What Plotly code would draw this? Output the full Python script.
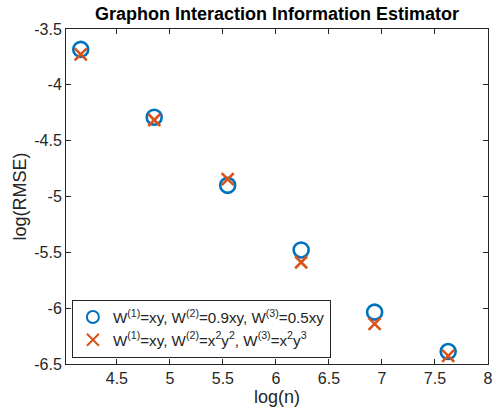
import plotly.graph_objects as go

log_n = [4.159, 4.852, 5.545, 6.238, 6.931, 7.625]
rmse_linear = [-3.682, -4.29, -4.90, -5.479, -6.036, -6.389]
rmse_poly = [-3.727, -4.315, -4.845, -5.589, -6.141, -6.428]
x_ticks = [4.5, 5, 5.5, 6, 6.5, 7, 7.5, 8]
y_ticks = [-6.5, -6, -5.5, -5, -4.5, -4, -3.5]

FONT = "Liberation Sans, Arial, Helvetica, sans-serif"
INK = "#262626"

fig = go.Figure()
fig.add_trace(go.Scatter(
    x=log_n, y=rmse_linear, mode="markers",
    name="W<sup>(1)</sup>=xy, W<sup>(2)</sup>=0.9xy, W<sup>(3)</sup>=0.5xy",
    marker=dict(symbol="circle-open", size=15, color="#0072BD",
                line=dict(width=2.6, color="#0072BD")),
))
fig.add_trace(go.Scatter(
    x=log_n, y=rmse_poly, mode="markers",
    name="W<sup>(1)</sup>=xy, W<sup>(2)</sup>=x<sup>2</sup>y<sup>2</sup>, W<sup>(3)</sup>=x<sup>2</sup>y<sup>3</sup>",
    marker=dict(symbol="x-thin", size=12, color="#D95319",
                line=dict(width=2.6, color="#D95319")),
))

axis_common = dict(
    showgrid=False, zeroline=False, showline=True, linecolor=INK,
    linewidth=1, mirror="ticks", ticks="inside", ticklen=5,
    tickcolor=INK, tickfont=dict(size=16, color=INK, family=FONT),
    ticklabeloverflow="allow",
)
fig.update_xaxes(range=[4.02, 8.0005], tickvals=x_ticks,
                 ticktext=[f"{v:g}" for v in x_ticks],
                 title=dict(text="log(n)", font=dict(size=18, color=INK, family=FONT), standoff=2),
                 **axis_common)
fig.update_yaxes(range=[-6.5005, -3.4995], tickvals=y_ticks,
                 ticktext=[f"{v:g}" for v in y_ticks],
                 title=dict(text="log(RMSE)", font=dict(size=18, color=INK, family=FONT), standoff=2),
                 **axis_common)

fig.update_layout(
    width=496, height=414,
    margin=dict(l=66, r=4, t=29, b=50),
    paper_bgcolor="white", plot_bgcolor="white",
    title=dict(text="<b>Graphon Interaction Information Estimator</b>",
               x=0.5, xref="paper", xanchor="center", y=1 - 14 / 414, yanchor="middle",
               font=dict(size=18, color="black", family=FONT)),
    legend=dict(x=0.014, y=0.019, xanchor="left", yanchor="bottom",
                bgcolor="white", bordercolor=INK, borderwidth=1,
                font=dict(size=15.2, color=INK, family=FONT),
                tracegroupgap=0, itemsizing="constant"),
    showlegend=True,
)

fig.write_html("out.html")
